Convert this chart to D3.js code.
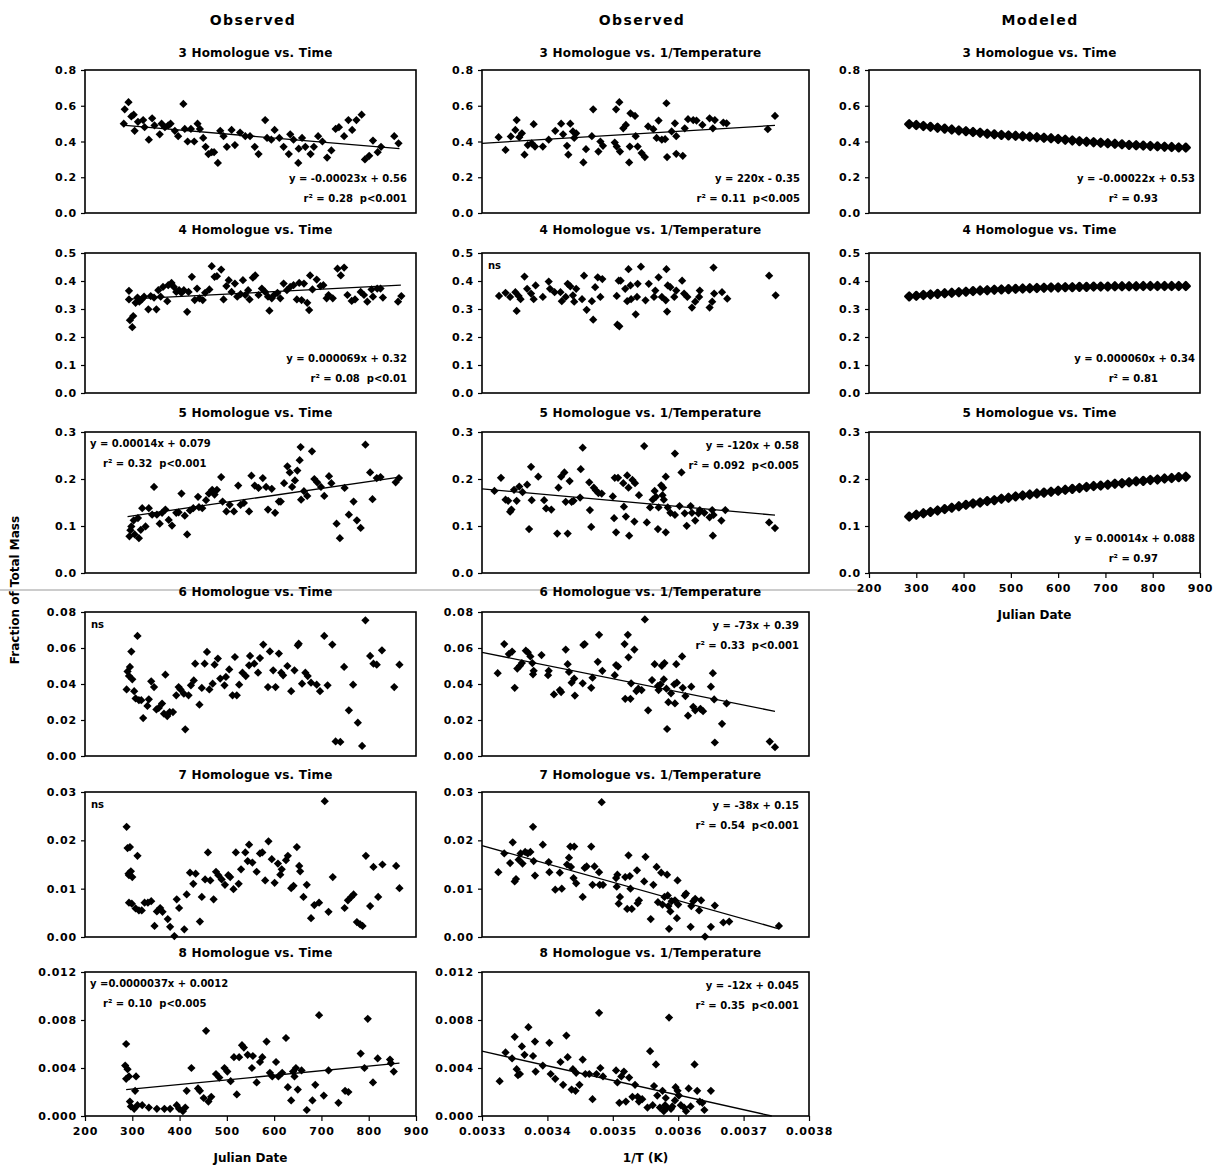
<!DOCTYPE html>
<html>
<head>
<meta charset="utf-8">
<script src="https://cdn.jsdelivr.net/npm/d3@7"></script>
<style>
body { margin: 0; background: #fff; }
text { font-family: "DejaVu Sans", sans-serif; font-weight: bold; fill: #000; white-space: pre; }
.colHead { font-size: 14px; letter-spacing: 1.4px; }
.title { font-size: 12px; letter-spacing: 0.2px; }
.eq { font-size: 10px; }
.tick text { font-size: 11px; font-family: "DejaVu Sans", sans-serif; font-weight: bold; letter-spacing: 0.8px; }
.tick line { stroke: #000; stroke-width: 1.2; }
.axTitle { font-size: 12px; }
</style>
</head>
<body>
<svg id="chart" width="1213" height="1165"></svg>
<script>
// ---- data: [x, y] pairs ----
var h3Time = [[282,.50],[284,.58],[292,.62],[298,.54],[303,.55],[305,.46],[312,.51],[323,.52],[326,.48],[335,.41],[342,.53],[347,.49],[358,.44],[362,.50],[369,.48],[376,.49],[381,.50],[390,.46],[397,.43],[408,.61],[411,.47],[417,.40],[424,.47],[431,.40],[438,.50],[443,.47],[450,.42],[455,.37],[461,.33],[468,.34],[473,.34],[481,.28],[486,.46],[493,.43],[500,.37],[510,.465],[517,.38],[528,.45],[539,.43],[549,.43],[559,.37],[567,.33],[581,.52],[585,.42],[594,.41],[601,.465],[611,.42],[620,.37],[631,.33],[634,.44],[641,.41],[651,.28],[652,.36],[659,.42],[666,.37],[677,.33],[684,.37],[693,.43],[702,.40],[712,.31],[721,.35],[730,.47],[737,.48],[748,.43],[757,.52],[765,.465],[774,.52],[785,.55],[792,.30],[801,.32],[809,.405],[819,.34],[826,.37],[854,.43],[863,.39]]
var h3Temp = [[.0033254,.424],[.003336,.353],[.003344,.428],[.003351,.465],[.003353,.52],[.003357,.424],[.003361,.446],[.003365,.326],[.00337,.38],[.003376,.39],[.003379,.497],[.003381,.372],[.003393,.372],[.003402,.41],[.003412,.46],[.003421,.50],[.003424,.44],[.00343,.376],[.003432,.326],[.003435,.50],[.003439,.456],[.003441,.42],[.003444,.446],[.003455,.283],[.003459,.357],[.003468,.43],[.00347,.58],[.003478,.344],[.003481,.40],[.003485,.376],[.003503,.394],[.003505,.58],[.003506,.372],[.00351,.62],[.003511,.344],[.003516,.474],[.00352,.493],[.003525,.283],[.003526,.372],[.003527,.558],[.003534,.543],[.003535,.43],[.003538,.372],[.003544,.335],[.003549,.313],[.003554,.484],[.003562,.469],[.003567,.42],[.00357,.517],[.003575,.41],[.00358,.413],[.003582,.614],[.003583,.313],[.00359,.456],[.003595,.502],[.003597,.43],[.003597,.331],[.003607,.32],[.00361,.474],[.003615,.525],[.003623,.52],[.003628,.517],[.003637,.493],[.003648,.53],[.003653,.474],[.003656,.52],[.003669,.506],[.003674,.502],[.003737,.469],[.003748,.543]]
var h4Time = [[293,.365],[293,.334],[295,.26],[300,.235],[302,.275],[307,.322],[311,.341],[315,.326],[320,.334],[325,.344],[334,.299],[339,.346],[346,.341],[351,.299],[355,.367],[360,.344],[365,.379],[374,.328],[376,.385],[383,.393],[388,.379],[393,.361],[399,.367],[404,.358],[409,.367],[416,.29],[419,.361],[426,.415],[432,.332],[437,.373],[442,.338],[449,.332],[454,.358],[463,.37],[468,.453],[474,.415],[479,.417],[488,.441],[493,.334],[499,.382],[504,.403],[510,.361],[517,.391],[522,.344],[529,.353],[534,.403],[539,.35],[545,.367],[548,.334],[555,.412],[560,.42],[567,.35],[574,.373],[581,.361],[587,.344],[590,.294],[595,.338],[600,.35],[607,.358],[613,.338],[620,.391],[627,.367],[634,.379],[641,.385],[648,.334],[653,.393],[658,.332],[663,.391],[670,.322],[674,.296],[676,.42],[681,.37],[690,.405],[698,.382],[704,.385],[711,.338],[715,.35],[724,.338],[734,.444],[741,.42],[748,.448],[755,.35],[764,.329],[771,.334],[783,.361],[790,.35],[797,.326],[806,.37],[809,.344],[818,.373],[825,.373],[830,.341],[862,.326],[869,.346]]
var h4Temp = [[.003326,.3465],[.003336,.358],[.003343,.343],[.003351,.36],[.003353,.293],[.003356,.3465],[.003359,.335],[.003365,.416],[.003369,.372],[.003375,.355],[.003379,.335],[.003382,.384],[.003393,.343],[.003402,.398],[.003404,.372],[.003411,.36],[.00342,.36],[.003422,.328],[.003428,.343],[.003431,.39],[.003435,.381],[.003439,.349],[.003441,.326],[.003444,.372],[.003453,.335],[.003456,.419],[.00346,.297],[.003468,.328],[.00347,.262],[.003473,.378],[.003477,.413],[.003481,.343],[.003484,.407],[.003506,.3465],[.003507,.244],[.003509,.401],[.00351,.238],[.003512,.401],[.003519,.372],[.003522,.328],[.003524,.442],[.003527,.384],[.003528,.335],[.003535,.281],[.003537,.343],[.003538,.39],[.003543,.451],[.00355,.331],[.003555,.39],[.003563,.343],[.003565,.366],[.00357,.413],[.003575,.343],[.003581,.331],[.003582,.442],[.003583,.291],[.003584,.384],[.003588,.378],[.003594,.343],[.003597,.366],[.003606,.401],[.003609,.355],[.003614,.343],[.003621,.305],[.003626,.326],[.003632,.343],[.003633,.366],[.003648,.305],[.003652,.326],[.003654,.448],[.003655,.355],[.003667,.36],[.003675,.337],[.003739,.419],[.003749,.349]]
var h5Time = [[294,.078],[296,.091],[298,.099],[303,.112],[305,.082],[312,.117],[314,.074],[318,.092],[321,.138],[328,.099],[335,.138],[342,.124],[346,.183],[352,.124],[358,.105],[363,.128],[370,.135],[377,.113],[384,.101],[393,.128],[398,.129],[404,.169],[411,.122],[416,.082],[422,.133],[429,.138],[439,.162],[441,.14],[448,.138],[456,.155],[462,.169],[469,.177],[474,.167],[479,.177],[488,.204],[491,.152],[499,.131],[506,.145],[515,.131],[524,.186],[529,.145],[536,.149],[547,.131],[552,.207],[559,.186],[567,.181],[576,.202],[583,.183],[587,.135],[595,.179],[602,.128],[610,.152],[614,.152],[621,.191],[628,.227],[633,.214],[638,.183],[644,.197],[649,.218],[654,.24],[656,.268],[657,.156],[663,.174],[670,.164],[680,.259],[685,.2],[691,.193],[699,.183],[706,.164],[716,.206],[721,.191],[732,.105],[739,.074],[749,.181],[758,.124],[768,.152],[775,.112],[783,.096],[793,.273],[803,.214],[808,.157],[817,.202],[825,.204],[857,.193],[864,.202]]
var h5Temp = [[.003319,.1745],[.003329,.2025],[.003336,.156],[.00334,.1535],[.003343,.1305],[.003345,.135],[.003349,.177],[.003353,.1535],[.003357,.184],[.003362,.172],[.003369,.188],[.003372,.0935],[.003375,.226],[.003376,.155],[.003386,.205],[.003395,.155],[.003398,.1375],[.003406,.135],[.003415,.084],[.003417,.1815],[.003421,.205],[.003426,.214],[.003428,.1515],[.003431,.084],[.003434,.1955],[.003437,.1515],[.00344,.1535],[.00345,.1605],[.003451,.221],[.003454,.2665],[.003464,.193],[.003465,.134],[.003467,.098],[.003471,.1815],[.003474,.176],[.003478,.17],[.003483,.169],[.0035,.163],[.003502,.1165],[.003503,.2025],[.003505,.0865],[.003508,.2025],[.003516,.191],[.003517,.141],[.00352,.12],[.003522,.2075],[.003524,.1815],[.003525,.0795],[.00353,.198],[.003533,.1095],[.003534,.191],[.00354,.1655],[.003548,.27],[.003552,.1075],[.003557,.1395],[.003561,.156],[.003564,.1745],[.003566,.162],[.003569,.0935],[.00357,.1395],[.003574,.1865],[.003576,.1655],[.003577,.1815],[.003578,.156],[.003581,.205],[.003581,.0865],[.003584,.1395],[.003588,.128],[.003595,.1235],[.003595,.254],[.003602,.1425],[.003605,.214],[.00361,.127],[.003613,.1005],[.003619,.1425],[.003621,.128],[.003626,.1115],[.003631,.127],[.003633,.134],[.00364,.128],[.003648,.1185],[.003652,.134],[.003653,.0795],[.003654,.1235],[.003666,.1115],[.003672,.134],[.003739,.1075],[.003748,.0955]]
var h6Time = [[288,.037],[290,.047],[293,.0445],[295,.0495],[298,.058],[300,.0426],[304,.036],[307,.032],[311,.0667],[314,.031],[319,.031],[323,.0211],[332,.0278],[335,.0315],[340,.0415],[346,.0383],[351,.0259],[356,.0267],[363,.0291],[367,.0235],[370,.0452],[374,.0222],[379,.0244],[386,.0244],[393,.0337],[398,.0383],[402,.037],[409,.0346],[412,.0148],[419,.0337],[424,.0393],[430,.042],[433,.0513],[442,.0285],[447,.0378],[453,.0513],[458,.0578],[463,.037],[470,.0402],[474,.0507],[481,.0541],[486,.043],[495,.0393],[498,.0439],[505,.0481],[512,.0337],[517,.055],[521,.0337],[526,.0396],[533,.0463],[540,.0444],[547,.0504],[549,.0556],[558,.0513],[566,.0463],[570,.0544],[577,.0619],[587,.0383],[591,.0581],[598,.0476],[603,.0383],[610,.0569],[615,.0463],[619,.0448],[628,.05],[636,.036],[643,.0476],[650,.0615],[652,.0624],[659,.0402],[666,.0463],[671,.0444],[678,.0407],[690,.0396],[697,.036],[706,.0667],[713,.0393],[723,.0619],[730,.0081],[740,.0078],[748,.0495],[758,.0254],[767,.0396],[777,.0185],[786,.0056],[793,.0754],[803,.0556],[810,.0513],[817,.0507],[828,.0587],[854,.0383],[865,.0507]]
var h6Temp = [[.003324,.046],[.003334,.0622],[.003341,.0566],[.003346,.058],[.00335,.0379],[.003354,.0486],[.003358,.0501],[.003361,.0516],[.003367,.0585],[.00337,.0576],[.003374,.0553],[.003377,.0516],[.003378,.0454],[.003379,.0473],[.003391,.0561],[.003401,.0449],[.003402,.0473],[.00341,.0342],[.003419,.0366],[.003421,.0355],[.003428,.0591],[.003431,.051],[.003433,.0467],[.003437,.0407],[.003441,.043],[.003442,.0336],[.003454,.0404],[.003455,.0617],[.003457,.0622],[.003467,.0379],[.003469,.0435],[.003477,.0523],[.003479,.0673],[.003484,.0473],[.003503,.0449],[.003505,.0505],[.003508,.0497],[.003518,.0622],[.003519,.0318],[.003523,.0673],[.003524,.0548],[.003527,.0318],[.003528,.0404],[.003533,.0591],[.003536,.0361],[.003539,.0374],[.003544,.0366],[.003549,.0759],[.003554,.0254],[.00356,.0422],[.003564,.051],[.003569,.0389],[.00357,.0366],[.003573,.0398],[.003575,.0501],[.003578,.0426],[.003579,.0516],[.003582,.0374],[.003583,.015],[.003585,.0299],[.003589,.0348],[.003594,.0398],[.003595,.0292],[.003597,.051],[.003598,.0407],[.003606,.0553],[.003607,.0379],[.003611,.0333],[.003615,.0224],[.00362,.0385],[.003623,.0273],[.003626,.0254],[.003634,.0262],[.003638,.0249],[.00365,.0385],[.003653,.046],[.003655,.0314],[.003656,.0075],[.003667,.0179],[.003674,.0292],[.00374,.008],[.003748,.0049]]
var h7Time = [[288,.0228],[290,.0184],[292,.0131],[293,.0128],[295,.0186],[297,.0136],[300,.0124],[293,.0071],[299,.0069],[307,.0059],[311,.0168],[314,.0055],[320,.0055],[326,.0071],[333,.0071],[340,.0074],[347,.0023],[352,.0053],[359,.006],[364,.0052],[375,.0037],[380,.0021],[389,.0002],[394,.0078],[399,.006],[410,.0016],[415,.0088],[422,.0133],[429,.011],[434,.0131],[443,.0032],[447,.0083],[454,.0119],[460,.0175],[465,.0117],[472,.0078],[477,.0135],[482,.0128],[489,.0119],[496,.0108],[503,.0128],[507,.0124],[514,.0099],[519,.0175],[525,.011],[530,.014],[539,.0175],[544,.0157],[547,.0191],[554,.0154],[563,.0135],[570,.0173],[575,.0175],[581,.0117],[588,.0198],[595,.0161],[601,.0112],[608,.0152],[613,.0129],[616,.014],[625,.0159],[629,.0168],[636,.0101],[641,.0106],[648,.0186],[653,.0147],[655,.0136],[662,.0083],[669,.0108],[678,.0039],[685,.0066],[695,.0071],[707,.0281],[715,.0052],[724,.0124],[749,.006],[756,.0076],[763,.0083],[768,.0088],[775,.0031],[782,.0026],[787,.0023],[794,.0168],[803,.0064],[810,.0145],[820,.0083],[829,.015],[858,.0147],[865,.0101]]
var h7Temp = [[.003325,.0134],[.003334,.0173],[.003343,.0153],[.003347,.0196],[.00335,.0115],[.003352,.012],[.003356,.016],[.003359,.0173],[.003362,.0152],[.003366,.0176],[.00337,.0173],[.003374,.0176],[.003378,.0228],[.003379,.0157],[.003381,.0127],[.003393,.0191],[.003402,.0155],[.003403,.0134],[.003412,.0098],[.003419,.0133],[.003422,.01],[.00343,.015],[.003433,.0164],[.003435,.0187],[.003436,.0145],[.00344,.0122],[.003441,.0187],[.003444,.0111],[.003454,.0083],[.003457,.0143],[.00346,.0146],[.003467,.0187],[.003469,.0108],[.003472,.0146],[.003479,.0134],[.00348,.0108],[.003483,.0279],[.003485,.0108],[.003505,.0122],[.003506,.0104],[.003507,.0129],[.003509,.0069],[.003511,.0083],[.003519,.0124],[.003522,.0058],[.003524,.0169],[.003526,.0126],[.003527,.01],[.003529,.0058],[.003537,.0138],[.003538,.007],[.00354,.0076],[.003548,.0115],[.00355,.0166],[.003558,.0037],[.003562,.0108],[.003567,.0145],[.003569,.0072],[.003574,.0133],[.003576,.0067],[.003579,.0083],[.003583,.0129],[.003584,.0086],[.003585,.0064],[.003586,.0017],[.003588,.0053],[.00359,.0074],[.003595,.0076],[.003598,.0039],[.003599,.0117],[.0036,.0067],[.00361,.0086],[.003612,.009],[.003619,.0021],[.00362,.0064],[.003623,.0074],[.003626,.0079],[.003632,.0055],[.003635,.0076],[.003641,.0001],[.00365,.0021],[.003656,.0065],[.003669,.003],[.003678,.0032],[.003754,.0023]]
var h8Time = [[287,.006],[285,.0042],[290,.0039],[287,.0031],[293,.0033],[295,.0012],[297,.0008],[304,.0006],[306,.0021],[308,.0033],[311,.0009],[321,.0009],[335,.0007],[352,.0006],[368,.0006],[380,.0006],[394,.0009],[399,.0006],[407,.0004],[412,.0007],[415,.0021],[425,.004],[439,.0023],[443,.0021],[451,.0015],[456,.0071],[461,.0012],[467,.0016],[477,.0035],[484,.0032],[495,.004],[501,.0037],[508,.0029],[515,.0049],[521,.0018],[526,.0049],[532,.0059],[536,.0057],[544,.0051],[553,.004],[555,.005],[563,.0028],[570,.0045],[575,.0049],[584,.0062],[591,.0036],[596,.0033],[604,.0045],[609,.0033],[617,.0036],[625,.0065],[629,.0024],[636,.0013],[640,.0037],[643,.0033],[646,.004],[650,.0022],[658,.0038],[669,.0005],[681,.0013],[687,.0026],[695,.0084],[705,.0017],[715,.0038],[736,.0011],[750,.0021],[757,.002],[783,.0052],[791,.004],[798,.0081],[809,.0028],[819,.0048],[845,.0047],[847,.0044],[853,.0037]]
var h8Temp = [[.003327,.0029],[.003336,.0053],[.003346,.0048],[.00335,.0066],[.003353,.0039],[.003355,.0034],[.003358,.0035],[.003361,.0058],[.003365,.0051],[.003371,.0074],[.003378,.005],[.003381,.0062],[.003382,.0037],[.003393,.0042],[.003403,.0061],[.003405,.0035],[.003412,.0031],[.00342,.0045],[.003424,.0026],[.003429,.0067],[.003431,.0049],[.003437,.0022],[.003439,.0039],[.003443,.0021],[.003444,.0036],[.003449,.0026],[.003454,.0047],[.003458,.0035],[.003464,.0035],[.003469,.0014],[.003475,.0035],[.003479,.0086],[.003481,.004],[.003485,.0033],[.003505,.0038],[.003507,.0028],[.00351,.0011],[.003513,.0033],[.003517,.0037],[.00352,.0012],[.003525,.0032],[.00353,.0016],[.003534,.0026],[.003538,.0016],[.00354,.0012],[.003545,.0014],[.003553,.0007],[.003557,.0054],[.003561,.0009],[.003563,.0025],[.003566,.0043],[.003568,.0017],[.003572,.0007],[.003576,.0021],[.003578,.0004],[.00358,.0009],[.003581,.0015],[.003583,.0007],[.003586,.0082],[.003589,.0006],[.003591,.0008],[.003595,.0013],[.003596,.0024],[.003599,.0021],[.003601,.0017],[.003604,.0009],[.003609,.0007],[.003612,.0004],[.003616,.0023],[.003619,.0008],[.003625,.0043],[.003629,.0021],[.003633,.0012],[.003637,.0011],[.00364,.0005],[.00365,.0021]]

// modeled curves (thick chain of diamonds)
var modelDays = [285,300,315,330,345,360,375,390,405,420,435,450,465,480,495,510,525,540,555,570,585,600,615,630,645,660,675,690,705,720,735,750,765,780,795,810,825,840,855,870]
var model3 = [.497,.492,.487,.482,.477,.472,.467,.462,.458,.453,.449,.444,.440,.437,.434,.432,.430,.427,.424,.421,.418,.414,.410,.406,.402,.399,.396,.393,.390,.387,.384,.381,.379,.377,.375,.373,.371,.369,.367,.366]
var model4 = [.345,.347,.350,.352,.354,.356,.358,.360,.362,.364,.366,.367,.369,.370,.371,.372,.373,.374,.375,.376,.377,.377,.378,.378,.379,.379,.380,.380,.380,.381,.381,.381,.381,.382,.382,.382,.382,.382,.382,.382]
var model5 = [.120,.124,.127,.130,.133,.136,.139,.142,.145,.148,.150,.153,.155,.158,.160,.163,.165,.167,.169,.171,.173,.175,.177,.179,.181,.183,.185,.186,.188,.190,.191,.193,.195,.196,.198,.199,.201,.202,.204,.205]

// regression lines (end points)
var fit3Time = [[285,.49],[865,.36]]
var fit3Temp = [[.0033,.39],[.003748,.49]]
var fit4Time = [[290,.335],[868,.385]]
var fit5Time = [[290,.12],[865,.204]]
var fit5Temp = [[.0033,.179],[.003748,.123]]
var fit6Temp = [[.0033,.0576],[.003748,.0248]]
var fit7Temp = [[.0033,.0189],[.003754,.0017]]
var fit8Time = [[287,.0022],[865,.0044]]
var fit8Temp = [[.0033,.0054],[.003743,0]]

// axis ticks
var ticksH3 = [0, .2, .4, .6, .8]
var ticksH4 = [0, .1, .2, .3, .4, .5]
var ticksH5 = [0, .1, .2, .3]
var ticksH6 = [0, .02, .04, .06, .08]
var ticksH7 = [0, .01, .02, .03]
var ticksH8 = [0, .004, .008, .012]
var dayTicks = [200, 300, 400, 500, 600, 700, 800, 900]
var invTTicks = [.0033, .0034, .0035, .0036, .0037, .0038]

var colHeads = ["Observed", "Observed", "Modeled"]

// ---- layout ----
var svg = d3.select("#chart")
var colX = [85, 482, 869], colW = [331, 327, 331]
var rowY = [70, 253, 432, 612, 792, 972], rowH = [143, 140, 141, 144, 145, 144]
var titleY = [57, 234, 417, 596, 779, 957]

var colCenters = [253, 642, 1040]
svg.selectAll(".colHead").data(colHeads).join("text")
	.attr("class", "colHead")
	.attr("x", function(d, i){ return colCenters[i] })
	.attr("y", 25)
	.attr("text-anchor", "middle")
	.text(function(d){ return d })

// scan line crossing the 6 homologue titles
svg.append("line").attr("x1", 0).attr("x2", 866).attr("y1", 590).attr("y2", 590)
	.attr("stroke", "#999").attr("stroke-width", 1)

var diamond = d3.symbol().type(d3.symbolSquare).size(34)
var modelDiamond = d3.symbol().type(d3.symbolSquare).size(30)

function drawPanel(p){
	var x0 = colX[p.col], y0 = rowY[p.row], w = colW[p.col], h = rowH[p.row]
	var g = svg.append("g").attr("transform", "translate(" + x0 + "," + y0 + ")")
	var xDom = p.col == 1 ? [.0033, .0038] : [200, 900]
	var x = d3.scaleLinear().domain(xDom).range([0, w])
	var y = d3.scaleLinear().domain([0, p.ticks[p.ticks.length - 1]]).range([h, 0])

	svg.append("text").attr("class", "title")
		.attr("x", x0 + w / 2 + 5).attr("y", titleY[p.row])
		.attr("text-anchor", "middle").text(p.title)

	g.append("g")
		.call(d3.axisLeft(y).tickValues(p.ticks).tickFormat(d3.format(p.fmt)).tickSize(4).tickPadding(4))
		.call(function(a){ a.select(".domain").remove() })

	if(p.xAxis){
		var xa = d3.axisBottom(x).tickSize(5).tickPadding(6)
		if(p.col == 1) xa.tickValues(invTTicks).tickFormat(d3.format(".4f"))
		else xa.tickValues(dayTicks).tickFormat(d3.format("d"))
		g.append("g").attr("transform", "translate(0," + h + ")").call(xa)
			.call(function(a){ a.select(".domain").remove() })
		g.append("text").attr("class", "axTitle")
			.attr("x", w / 2).attr("y", h + 46).attr("text-anchor", "middle")
			.text(p.col == 1 ? "1/T (K)" : "Julian Date")
	}

	g.append("rect").attr("width", w).attr("height", h)
		.attr("fill", "none").attr("stroke", "#000").attr("stroke-width", 1.6)

	if(p.fit){
		g.append("path").datum(p.fit)
			.attr("d", d3.line().x(function(d){ return x(d[0]) }).y(function(d){ return y(d[1]) }))
			.attr("stroke", "#000").attr("stroke-width", 1.3).attr("fill", "none")
	}

	g.selectAll(".pt").data(p.data).join("path")
		.attr("class", "pt")
		.attr("d", p.modeled ? modelDiamond : diamond)
		.attr("fill", "#000")
		.attr("stroke", p.modeled ? "#000" : "none")
		.attr("stroke-width", p.modeled ? 2.5 : 0)
		.attr("stroke-linejoin", "round")
		.attr("transform", function(d){ return "translate(" + x(d[0]) + "," + y(d[1]) + ") rotate(45)" })

	if(p.ns){
		g.append("text").attr("class", "eq").attr("x", 6).attr("y", 16).text("ns")
	}
	if(p.eq){
		if(p.eqPos == "tl"){
			g.append("text").attr("class", "eq").attr("x", 5).attr("y", 15).text(p.eq[0])
			g.append("text").attr("class", "eq").attr("x", 18).attr("y", 35).text(p.eq[1])
		} else if(p.eqPos == "tr"){
			g.append("text").attr("class", "eq").attr("x", w - 10).attr("y", 17).attr("text-anchor", "end").text(p.eq[0])
			g.append("text").attr("class", "eq").attr("x", w - 10).attr("y", 37).attr("text-anchor", "end").text(p.eq[1])
		} else if(p.eqPos == "brm"){
			g.append("text").attr("class", "eq").attr("x", w - 5).attr("y", h - 31).attr("text-anchor", "end").text(p.eq[0])
			g.append("text").attr("class", "eq").attr("x", w - 42).attr("y", h - 11).attr("text-anchor", "end").text(p.eq[1])
		} else {
			g.append("text").attr("class", "eq").attr("x", w - 9).attr("y", h - 31).attr("text-anchor", "end").text(p.eq[0])
			g.append("text").attr("class", "eq").attr("x", w - 9).attr("y", h - 11).attr("text-anchor", "end").text(p.eq[1])
		}
	}
}

var panels = [
	{col: 0, row: 0, title: "3 Homologue vs. Time", data: h3Time, ticks: ticksH3, fmt: ".1f", fit: fit3Time, eq: ["y = -0.00023x + 0.56", "r² = 0.28  p<0.001"], eqPos: "br"},
	{col: 1, row: 0, title: "3 Homologue vs. 1/Temperature", data: h3Temp, ticks: ticksH3, fmt: ".1f", fit: fit3Temp, eq: ["y = 220x - 0.35", "r² = 0.11  p<0.005"], eqPos: "br"},
	{col: 2, row: 0, title: "3 Homologue vs. Time", data: d3.zip(modelDays, model3), modeled: true, ticks: ticksH3, fmt: ".1f", eq: ["y = -0.00022x + 0.53", "r² = 0.93"], eqPos: "brm"},
	{col: 0, row: 1, title: "4 Homologue vs. Time", data: h4Time, ticks: ticksH4, fmt: ".1f", fit: fit4Time, eq: ["y = 0.000069x + 0.32", "r² = 0.08  p<0.01"], eqPos: "br"},
	{col: 1, row: 1, title: "4 Homologue vs. 1/Temperature", data: h4Temp, ticks: ticksH4, fmt: ".1f", ns: true},
	{col: 2, row: 1, title: "4 Homologue vs. Time", data: d3.zip(modelDays, model4), modeled: true, ticks: ticksH4, fmt: ".1f", eq: ["y = 0.000060x + 0.34", "r² = 0.81"], eqPos: "brm"},
	{col: 0, row: 2, title: "5 Homologue vs. Time", data: h5Time, ticks: ticksH5, fmt: ".1f", fit: fit5Time, eq: ["y = 0.00014x + 0.079", "r² = 0.32  p<0.001"], eqPos: "tl"},
	{col: 1, row: 2, title: "5 Homologue vs. 1/Temperature", data: h5Temp, ticks: ticksH5, fmt: ".1f", fit: fit5Temp, eq: ["y = -120x + 0.58", "r² = 0.092  p<0.005"], eqPos: "tr"},
	{col: 2, row: 2, title: "5 Homologue vs. Time", data: d3.zip(modelDays, model5), modeled: true, ticks: ticksH5, fmt: ".1f", eq: ["y = 0.00014x + 0.088", "r² = 0.97"], eqPos: "brm", xAxis: true},
	{col: 0, row: 3, title: "6 Homologue vs. Time", data: h6Time, ticks: ticksH6, fmt: ".2f", ns: true},
	{col: 1, row: 3, title: "6 Homologue vs. 1/Temperature", data: h6Temp, ticks: ticksH6, fmt: ".2f", fit: fit6Temp, eq: ["y = -73x + 0.39", "r² = 0.33  p<0.001"], eqPos: "tr"},
	{col: 0, row: 4, title: "7 Homologue vs. Time", data: h7Time, ticks: ticksH7, fmt: ".2f", ns: true},
	{col: 1, row: 4, title: "7 Homologue vs. 1/Temperature", data: h7Temp, ticks: ticksH7, fmt: ".2f", fit: fit7Temp, eq: ["y = -38x + 0.15", "r² = 0.54  p<0.001"], eqPos: "tr"},
	{col: 0, row: 5, title: "8 Homologue vs. Time", data: h8Time, ticks: ticksH8, fmt: ".3f", fit: fit8Time, eq: ["y =0.0000037x + 0.0012", "r² = 0.10  p<0.005"], eqPos: "tl", xAxis: true},
	{col: 1, row: 5, title: "8 Homologue vs. 1/Temperature", data: h8Temp, ticks: ticksH8, fmt: ".3f", fit: fit8Temp, eq: ["y = -12x + 0.045", "r² = 0.35  p<0.001"], eqPos: "tr", xAxis: true}
]

panels.forEach(drawPanel)

svg.append("text").attr("class", "axTitle")
	.attr("transform", "translate(19,590) rotate(-90)")
	.attr("text-anchor", "middle")
	.text("Fraction of Total Mass")
</script>
</body>
</html>
